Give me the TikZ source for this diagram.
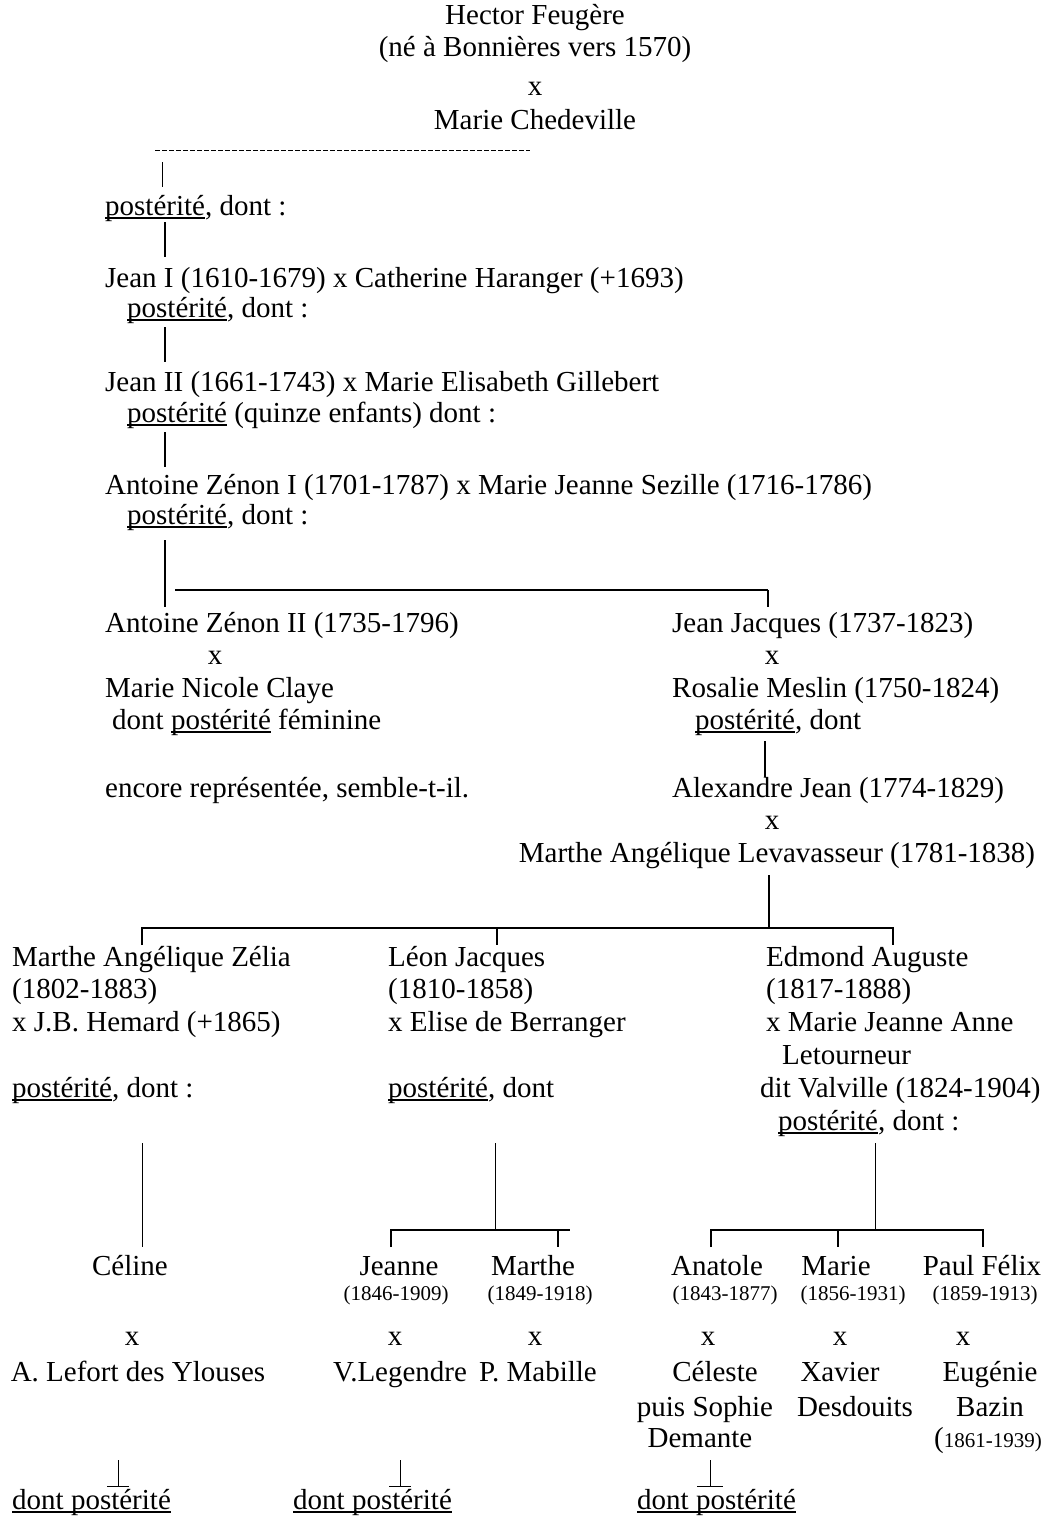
\documentclass[tikz,border=0pt]{standalone}
\usepackage{fontspec}
\setmainfont{Liberation Serif}
\newcommand\mainsz{\fontsize{29}{33}\selectfont}
\newcommand\smsz{\fontsize{21}{24}\selectfont}
\newcommand\ul[1]{\setbox0=\hbox{#1}\rlap{\rule[-3.6pt]{\wd0}{1.4pt}}\box0\relax}
\begin{document}
\begin{tikzpicture}[x=1pt,y=-1pt,
  tl/.style={inner sep=0pt, anchor=base west, font=\mainsz},
  tc/.style={inner sep=0pt, anchor=base, font=\mainsz},
  sm/.style={inner sep=0pt, anchor=base, font=\smsz},
  thinln/.style={line width=1pt},
  ln/.style={line width=2pt},
  br/.style={line width=2.6pt},
  dsh/.style={line width=0.8pt, dash pattern=on 5pt off 2pt}]
\useasboundingbox[fill=white] (0,0) rectangle (1052,1523);

% ---- top
\node[tc] (hector) at (535,24) {Hector Feugère};
\node[tc] (ne) at (535,56) {(né à Bonnières vers 1570)};
\node[tc] (x0) at (535,95) {x};
\node[tc] (chedeville) at (535,129) {Marie Chedeville};
\coordinate (d1) at (155,150); \coordinate (d2) at (530,150);
\draw[dsh] (d1) -- (d2);
\coordinate (v0a) at (162,162); \coordinate (v0b) at (162,187);
\draw[thinln] (v0a) -- (v0b);

\node[tl] (p0) at (105,215) {\ul{postérité}, dont :};
\coordinate (v1a) at (165,222); \coordinate (v1b) at (165,257);
\draw[ln] (v1a) -- (v1b);
\node[tl] (jean1) at (105,287) {Jean I (1610-1679) x Catherine Haranger (+1693)};
\node[tl] (p1) at (127,317) {\ul{postérité}, dont :};
\coordinate (v2a) at (165,327); \coordinate (v2b) at (165,362);
\draw[ln] (v2a) -- (v2b);
\node[tl] (jean2) at (105,391) {Jean II (1661-1743) x Marie Elisabeth Gillebert};
\node[tl] (p2) at (127,422) {\ul{postérité} (quinze enfants) dont :};
\coordinate (v3a) at (165,432); \coordinate (v3b) at (165,467);
\draw[ln] (v3a) -- (v3b);
\node[tl] (az1) at (105,494) {Antoine Zénon I (1701-1787) x Marie Jeanne Sezille (1716-1786)};
\node[tl] (p3) at (127,524) {\ul{postérité}, dont :};
\coordinate (v4a) at (165,540); \coordinate (v4b) at (165,607);
\draw[ln] (v4a) -- (v4b);
\coordinate (h1a) at (175,590); \coordinate (h1b) at (768,590); \coordinate (h1c) at (768,607);
\draw[br] (h1a) -- (h1b);
\draw[ln] (h1b) -- (h1c);

% ---- left branch Antoine Zénon II
\node[tl] (az2) at (105,632) {Antoine Zénon II (1735-1796)};
\node[tc] (x1) at (215,664) {x};
\node[tl] (claye) at (105,697) {Marie Nicole Claye};
\node[tl] (fem) at (112,729) {dont \ul{postérité} féminine};
\node[tl] (encore) at (105,797) {encore représentée, semble-t-il.};

% ---- right branch Jean Jacques
\node[tl] (jj) at (672,632) {Jean Jacques (1737-1823)};
\node[tc] (x2) at (772,664) {x};
\node[tl] (meslin) at (672,697) {Rosalie Meslin (1750-1824)};
\node[tl] (p4) at (695,729) {\ul{postérité}, dont};
\coordinate (v5a) at (765,741); \coordinate (v5b) at (765,777);
\draw[ln] (v5a) -- (v5b);
\node[tl] (alex) at (672,797) {Alexandre Jean (1774-1829)};
\node[tc] (x3) at (772,829) {x};
\node[tc] (lev) at (777,862) {Marthe Angélique Levavasseur (1781-1838)};
\coordinate (v6a) at (769,875); \coordinate (v6b) at (769,928);
\draw[ln] (v6a) -- (v6b);
\coordinate (h2a) at (142,945); \coordinate (h2b) at (142,928);
\coordinate (h2c) at (893,928); \coordinate (h2d) at (893,945);
\coordinate (h2m) at (497,928); \coordinate (h2n) at (497,945);
\draw[br] (h2a) -- (h2b) -- (h2c) -- (h2d);
\draw[ln] (h2m) -- (h2n);

% ---- three children
\node[tl] (zelia) at (12,966) {Marthe Angélique Zélia};
\node[tl] (zd) at (12,998) {(1802-1883)};
\node[tl] (hem) at (12,1031) {x J.B. Hemard (+1865)};
\node[tl] (p5) at (12,1097) {\ul{postérité}, dont :};

\node[tl] (leon) at (388,966) {Léon Jacques};
\node[tl] (ld) at (388,998) {(1810-1858)};
\node[tl] (elise) at (388,1031) {x Elise de Berranger};
\node[tl] (p6) at (388,1097) {\ul{postérité}, dont};

\node[tl] (edm) at (766,966) {Edmond Auguste};
\node[tl] (ed) at (766,998) {(1817-1888)};
\node[tl] (mja) at (766,1031) {x Marie Jeanne Anne};
\node[tl] (letour) at (782,1064) {Letourneur};
\node[tl] (valv) at (760,1097) {dit Valville (1824-1904)};
\node[tl] (p7) at (778,1130) {\ul{postérité}, dont :};

% ---- verticals and brackets
\coordinate (c1a) at (142,1143); \coordinate (c1b) at (142,1247);
\draw[thinln] (c1a) -- (c1b);
\coordinate (c2a) at (495,1143); \coordinate (c2b) at (495,1230);
\draw[thinln] (c2a) -- (c2b);
\coordinate (c3a) at (875,1143); \coordinate (c3b) at (875,1230);
\draw[thinln] (c3a) -- (c3b);

\coordinate (b1a) at (391,1247); \coordinate (b1b) at (391,1230);
\coordinate (b1c) at (570,1230); \coordinate (b1t) at (558,1230); \coordinate (b1u) at (558,1247);
\draw[br] (b1a) -- (b1b) -- (b1c);
\draw[ln] (b1t) -- (b1u);
\coordinate (b2a) at (711,1247); \coordinate (b2b) at (711,1230);
\coordinate (b2c) at (983,1230); \coordinate (b2d) at (983,1247);
\coordinate (b2m) at (838,1230); \coordinate (b2n) at (838,1247);
\draw[br] (b2a) -- (b2b) -- (b2c) -- (b2d);
\draw[ln] (b2m) -- (b2n);

% ---- grandchildren
\node[tc] (celine) at (130,1275) {Céline};
\node[tc] (jeanne) at (399,1275) {Jeanne};
\node[sm] (jeanned) at (396,1300) {(1846-1909)};
\node[tc] (marthe) at (533,1275) {Marthe};
\node[sm] (marthed) at (540,1300) {(1849-1918)};
\node[tc] (anatole) at (717,1275) {Anatole};
\node[sm] (anatoled) at (725,1300) {(1843-1877)};
\node[tc] (marie) at (836,1275) {Marie};
\node[sm] (maried) at (853,1300) {(1856-1931)};
\node[tc] (paul) at (982,1275) {Paul Félix};
\node[sm] (pauld) at (985,1300) {(1859-1913)};

\node[tc] (xa) at (132,1345) {x};
\node[tc] (xb) at (395,1345) {x};
\node[tc] (xc) at (535,1345) {x};
\node[tc] (xd) at (708,1345) {x};
\node[tc] (xe) at (840,1345) {x};
\node[tc] (xf) at (963,1345) {x};

\node[tc] (lefort) at (138,1381) {A. Lefort des Ylouses};
\node[tc] (legendre) at (400,1381) {V.Legendre};
\node[tc] (mabille) at (538,1381) {P. Mabille};
\node[tc] (celeste) at (715,1381) {Céleste};
\node[tc] (xavier) at (840,1381) {Xavier};
\node[tc] (eugenie) at (990,1381) {Eugénie};
\node[tc] (sophie) at (705,1416) {puis Sophie};
\node[tc] (desdouits) at (855,1416) {Desdouits};
\node[tc] (bazin) at (990,1416) {Bazin};
\node[tc] (demante) at (700,1447) {Demante};
\node[tc] (bazind) at (988,1447) {{\mainsz(}{\smsz 1861-1939)}};

% ---- bottom marks
\coordinate (t1a) at (118,1460); \coordinate (t1b) at (118,1486);
\coordinate (t1l) at (107,1486); \coordinate (t1r) at (129,1486);
\draw[thinln] (t1a) -- (t1b); \draw[thinln] (t1l) -- (t1r);
\coordinate (t2a) at (400,1460); \coordinate (t2b) at (400,1486);
\coordinate (t2l) at (389,1486); \coordinate (t2r) at (411,1486);
\draw[thinln] (t2a) -- (t2b); \draw[thinln] (t2l) -- (t2r);
\coordinate (t3a) at (710,1460); \coordinate (t3b) at (710,1486);
\coordinate (t3l) at (697,1486); \coordinate (t3r) at (723,1486);
\draw[thinln] (t3a) -- (t3b); \draw[thinln] (t3l) -- (t3r);

\node[tl] (dp1) at (12,1509) {\ul{dont postérité}};
\node[tl] (dp2) at (293,1509) {\ul{dont postérité}};
\node[tl] (dp3) at (637,1509) {\ul{dont postérité}};
\end{tikzpicture}
\end{document}
